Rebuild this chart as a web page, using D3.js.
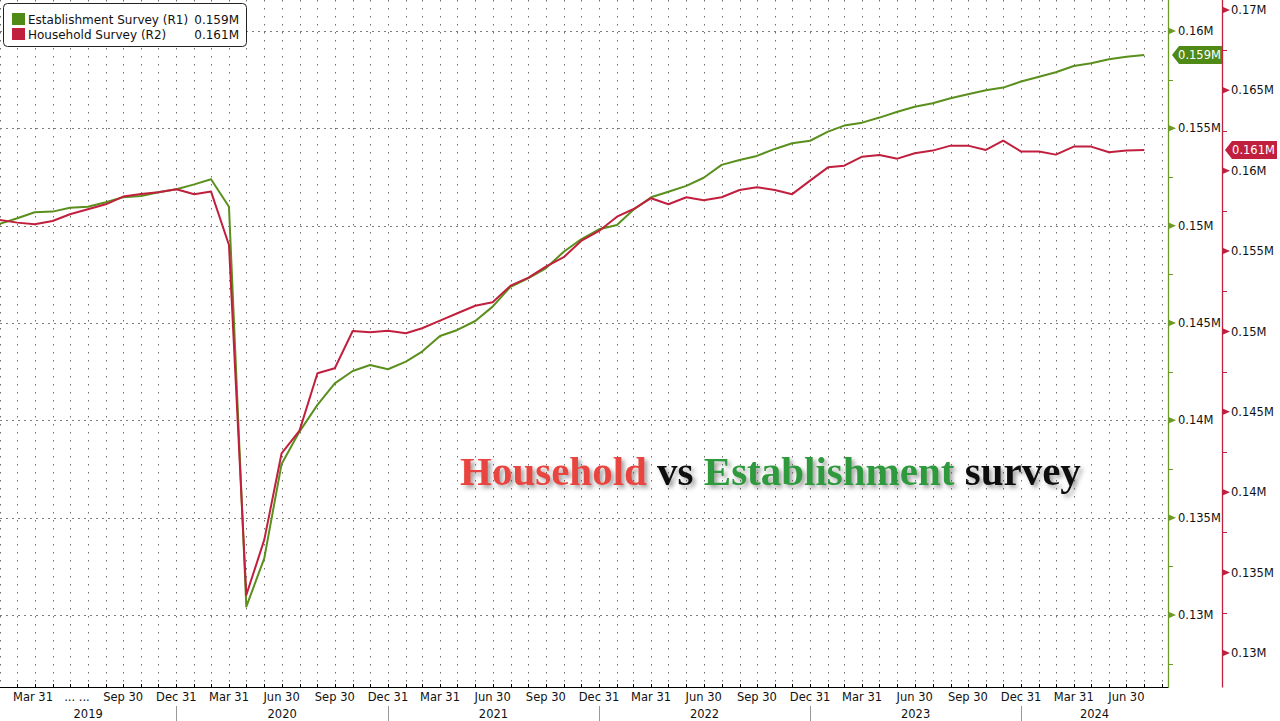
<!DOCTYPE html>
<html><head><meta charset="utf-8">
<script src="https://cdn.jsdelivr.net/npm/d3@7"></script>
<style>
html,body{margin:0;padding:0;background:#fff;}
svg{display:block;}
text{font-family:"DejaVu Sans",Verdana,sans-serif;}
</style></head><body>
<svg id="c" width="1280" height="721"></svg>
<script>
// ---------------- DATA ----------------
const seriesNames = ["Establishment Survey (R1)", "Household Survey (R2)"];
const firstMonth = [2019, 2];   // Feb 2019 (month-end observations)
// values in millions of persons
const establishment = [
  150.09,150.38,150.69,150.72,150.92,150.97,151.20,151.46,151.52,151.71,151.87,
  152.12,152.38,150.97,130.43,132.91,137.76,139.42,140.79,141.90,142.53,142.84,142.62,
  143.01,143.53,144.33,144.64,145.10,145.84,146.86,147.30,147.81,148.66,149.30,149.81,
  150.03,150.80,151.46,151.74,152.04,152.46,153.12,153.37,153.58,153.94,154.23,154.36,
  154.83,155.14,155.29,155.55,155.85,156.11,156.29,156.54,156.75,156.95,157.09,157.40,
  157.65,157.88,158.20,158.34,158.55,158.68,158.77
];
const household = [
  156.94,156.77,156.67,156.87,157.29,157.60,157.91,158.39,158.55,158.66,158.85,
  158.53,158.70,155.38,133.60,137.03,142.42,143.83,147.40,147.71,150.03,149.95,150.05,
  149.89,150.20,150.67,151.13,151.60,151.82,152.85,153.35,154.03,154.62,155.63,156.25,
  157.14,157.60,158.29,157.91,158.35,158.16,158.35,158.80,158.97,158.80,158.54,159.38,
  160.21,160.31,160.87,160.98,160.75,161.09,161.25,161.56,161.56,161.29,161.87,161.19,
  161.19,161.00,161.50,161.50,161.15,161.25,161.29
];
const greenTicks = [130,135,140,145,150,155,160];
const redTicks = [130,135,140,145,150,155,160,165,170];
// quarter-end tick labels, Mar 2019 .. Jun 2024
const quarterLabels = [
  "Mar 31","... ...","Sep 30","Dec 31",
  "Mar 31","Jun 30","Sep 30","Dec 31",
  "Mar 31","Jun 30","Sep 30","Dec 31",
  "Mar 31","Jun 30","Sep 30","Dec 31",
  "Mar 31","Jun 30","Sep 30","Dec 31",
  "Mar 31","Jun 30"
];
const yearLabels = ["2019","2020","2021","2022","2023","2024"];
const titleParts = [
  {t:"Household", c:"#e8453f"},
  {t:" vs ", c:"#111"},
  {t:"Establishment", c:"#2f9a3c"},
  {t:" survey", c:"#111"}
];

// ---------------- LAYOUT ----------------
const W = 1168, H = 687;
const GREEN = "#5b8f1d", RED = "#c01f3d";
const svg = d3.select("#c");

const monthEnd = (y, m) => new Date(Date.UTC(y, m, 0)); // m is 1-based month
const dates = establishment.map((_, i) => {
  const idx = firstMonth[1] - 1 + i;
  return monthEnd(firstMonth[0] + Math.floor(idx / 12), (idx % 12) + 1);
});

const x = d3.scaleUtc().domain([new Date(Date.UTC(2019,2,1)), new Date(Date.UTC(2024,8,10))]).range([0, W]);
const yG = d3.scaleLinear().domain([126.30, 161.59]).range([H, 0]);
const yR = d3.scaleLinear().domain([127.88, 170.62]).range([H, 0]);

const fmtM = v => String(+(v/1000).toFixed(3)) + "M";

// defs
const defs = svg.append("defs");
defs.append("clipPath").attr("id","plotclip").append("rect").attr("x",0).attr("y",0).attr("width",W).attr("height",H);
const f = defs.append("filter").attr("id","shadow").attr("x","-5%").attr("y","-20%").attr("width","115%").attr("height","160%");
f.append("feDropShadow").attr("dx",3).attr("dy",3).attr("stdDeviation",2).attr("flood-color","#555").attr("flood-opacity",0.55);

// ---------------- GRID ----------------
const grid = svg.append("g");
const gridMonths = [];
for (let i = 0; i < 80; i++) {
  const idx = firstMonth[1] - 1 + i;
  const d = monthEnd(firstMonth[0] + Math.floor(idx / 12), (idx % 12) + 1);
  if (x(d) > W - 1) break;
  gridMonths.push(d);
}
grid.selectAll("line.v").data(gridMonths).join("line")
  .attr("x1", d => Math.max(0.5, Math.round(x(d)) + 0.5)).attr("x2", d => Math.max(0.5, Math.round(x(d)) + 0.5))
  .attr("y1", 0).attr("y2", H)
  .attr("stroke", "#6f6f6f").attr("stroke-width", 1).attr("stroke-dasharray", "1.5,6.5");
grid.selectAll("line.h").data(greenTicks).join("line")
  .attr("x1", 0).attr("x2", W)
  .attr("y1", d => Math.round(yG(d)) + 0.5).attr("y2", d => Math.round(yG(d)) + 0.5)
  .attr("stroke", "#7d7d7d").attr("stroke-width", 1).attr("stroke-dasharray", "2,4");

// ---------------- TITLE ----------------
const title = svg.append("text")
  .attr("x", 460).attr("y", 485)
  .attr("filter", "url(#shadow)")
  .style("font-family", '"Liberation Serif","Times New Roman",serif')
  .style("font-weight", "bold").style("font-size", "41px")
  .attr("xml:space", "preserve");
title.selectAll("tspan").data(titleParts).join("tspan")
  .attr("fill", d => d.c).text(d => d.t);

// ---------------- LINES ----------------
const lines = svg.append("g").attr("clip-path", "url(#plotclip)");
lines.append("path")
  .datum(establishment)
  .attr("fill", "none").attr("stroke", GREEN).attr("stroke-width", 2).attr("stroke-linejoin", "round")
  .attr("d", d3.line().x((d, i) => x(dates[i])).y(d => yG(d)));
lines.append("path")
  .datum(household)
  .attr("fill", "none").attr("stroke", RED).attr("stroke-width", 2).attr("stroke-linejoin", "round")
  .attr("d", d3.line().x((d, i) => x(dates[i])).y(d => yR(d)));

// ---------------- BOTTOM AXIS ----------------
const bx = svg.append("g");
bx.append("line").attr("x1", 0).attr("x2", W + 0.5).attr("y1", H + 0.5).attr("y2", H + 0.5).attr("stroke", "#000");
bx.selectAll("line.mt").data(gridMonths).join("line")
  .attr("x1", d => Math.round(x(d)) + 0.5).attr("x2", d => Math.round(x(d)) + 0.5)
  .attr("y1", H - 3).attr("y2", H + 1).attr("stroke", "#000");
const quarters = quarterLabels.map((label, k) => {
  const y = 2019 + Math.floor(k / 4);
  const m = 3 * (k % 4) + 3;
  return {d: monthEnd(y, m), label};
});
bx.selectAll("text.q").data(quarters).join("text")
  .attr("x", (q, i) => {
    let px = x(q.d);
    if (i === 0) px = Math.max(px, 33);
    if (q.label === "... ...") px += 7;
    return px;
  })
  .attr("y", 701).attr("text-anchor", "middle")
  .attr("font-size", "11.5px").attr("fill", "#111").text(q => q.label);
const yearBounds = yearLabels.map(yl => {
  const y = +yl;
  const a = Math.max(0, x(new Date(Date.UTC(y - 1, 11, 31))));
  const b = Math.min(W, x(new Date(Date.UTC(y, 11, 31))));
  return {yl, a, b};
});
bx.selectAll("text.y").data(yearBounds).join("text")
  .attr("x", d => (d.a + d.b) / 2).attr("y", 718).attr("text-anchor", "middle")
  .attr("font-size", "11.5px").attr("fill", "#111").text(d => d.yl);
bx.selectAll("line.ys").data(yearBounds.slice(1)).join("line")
  .attr("x1", d => Math.round(d.a) + 0.5).attr("x2", d => Math.round(d.a) + 0.5)
  .attr("y1", 706).attr("y2", 721).attr("stroke", "#999");

// ---------------- RIGHT AXES ----------------
function rightAxis(xPos, scale, ticks, color, labelX) {
  const g = svg.append("g");
  g.append("line").attr("x1", xPos + 0.5).attr("x2", xPos + 0.5).attr("y1", 0).attr("y2", H + 0.5)
    .attr("stroke", color).attr("stroke-width", 1.3);
  const minors = ticks.map(t => t + 2.5).concat([ticks[0] - 2.5])
    .filter(t => scale(t) >= 0 && scale(t) <= H);
  g.selectAll("line.mn").data(minors).join("line")
    .attr("x1", xPos).attr("x2", xPos + 5)
    .attr("y1", d => Math.round(scale(d)) + 0.5).attr("y2", d => Math.round(scale(d)) + 0.5)
    .attr("stroke", color);
  g.selectAll("path.tri").data(ticks).join("path")
    .attr("d", d => { const yy = scale(d); return `M${xPos},${yy-3.5}L${xPos+8},${yy}L${xPos},${yy+3.5}Z`; })
    .attr("fill", color);
  g.selectAll("text").data(ticks).join("text")
    .attr("x", labelX).attr("y", d => scale(d)).attr("dy", "0.36em")
    .attr("font-size", "11.5px").attr("fill", "#111").text(d => fmtM(d));
}
rightAxis(1168, yG, greenTicks, "#6b9a25", 1178);
rightAxis(1222, yR, redTicks, RED, 1231);

// ---------------- BADGES ----------------
function badge(x0, x1, val, scale, color) {
  const cy = scale(val);
  svg.append("path")
    .attr("d", `M${x0},${cy}L${x0+7},${cy-9}L${x1},${cy-9}L${x1},${cy+9}L${x0+7},${cy+9}Z`)
    .attr("fill", color);
  svg.append("text").attr("x", (x0 + 5 + x1) / 2).attr("y", cy).attr("dy", "0.36em")
    .attr("text-anchor", "middle").attr("font-size", "11.5px").attr("fill", "#fff")
    .text(fmtM(val));
}
badge(1172, 1222, establishment[establishment.length - 1], yG, "#4f8a17");
badge(1225, 1277, household[household.length - 1], yR, RED);

// ---------------- LEGEND ----------------
const lg = svg.append("g");
lg.append("rect").attr("x", 3.5).attr("y", 3.5).attr("width", 243).attr("height", 43).attr("rx", 4)
  .attr("fill", "#fff").attr("stroke", "#222");
const legendItems = [
  {name: seriesNames[0], val: establishment[establishment.length - 1], color: "#4f8a17"},
  {name: seriesNames[1], val: household[household.length - 1], color: RED}
];
const li = lg.selectAll("g.it").data(legendItems).join("g")
  .attr("transform", (d, i) => `translate(0,${20 + i * 15})`);
li.append("rect").attr("x", 12).attr("y", -7).attr("width", 13).attr("height", 12).attr("fill", d => d.color);
li.append("text").attr("x", 28).attr("y", 0).attr("dy", "0.36em").attr("font-size", "12px").attr("fill", "#111").text(d => d.name);
li.append("text").attr("x", 239).attr("y", 0).attr("dy", "0.36em").attr("text-anchor", "end").attr("font-size", "12px").attr("fill", "#111").text(d => fmtM(d.val));
</script>
</body></html>
